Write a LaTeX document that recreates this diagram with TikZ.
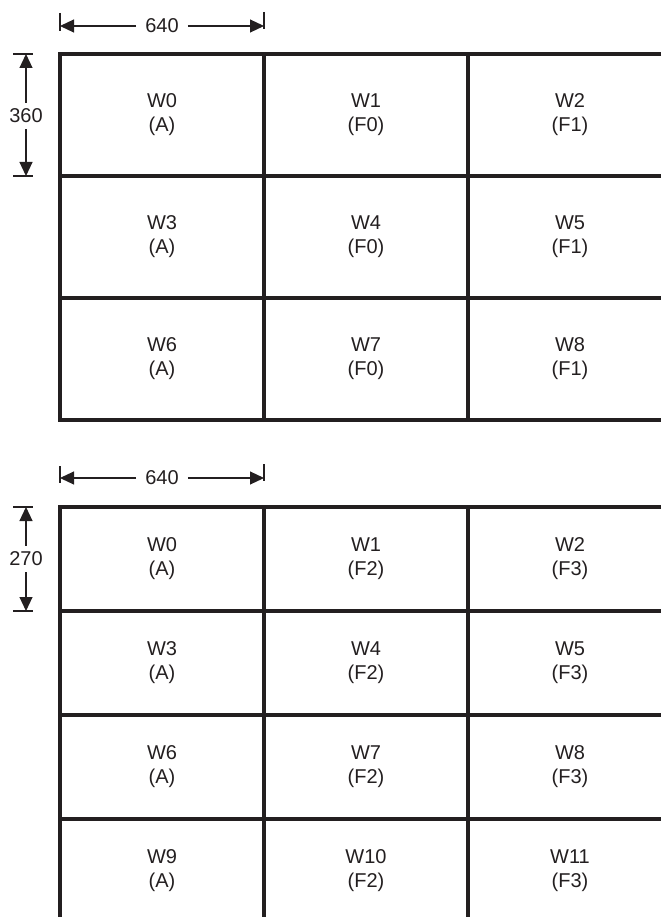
\documentclass[tikz,border=0pt]{standalone}
\usepackage{fontspec}
\setmainfont{Liberation Sans}
\usetikzlibrary{arrows.meta}
\definecolor{ink}{RGB}{35,31,32}
\tikzset{
  gridline/.style={draw=ink, line width=3.3pt},
  dimline/.style={draw=ink, line width=1.1pt},
  dimarrow/.style={dimline, -{Triangle[length=14pt,width=13pt]}},
  celltext/.style={align=center, inner sep=0pt, text=ink, font=\fontsize{20}{24}\selectfont},
  dimtext/.style={inner sep=0pt, text=ink, font=\fontsize{20}{24}\selectfont}
}
\begin{document}
\begin{tikzpicture}[x=1pt,y=-1pt]
\useasboundingbox (0,0) rectangle (661,917);

% ---------- top grid ----------
\draw[gridline, line join=miter] (661,54) -- (60,54) -- (60,420) -- (661,420);
\draw[gridline] (264,54) -- (264,420);
\draw[gridline] (468,54) -- (468,420);
\draw[gridline] (60,176) -- (661,176);
\draw[gridline] (60,298) -- (661,298);

\foreach \r/\ry in {0/115,1/237,2/359}{
  \pgfmathtruncatemacro{\a}{3*\r}
  \pgfmathtruncatemacro{\b}{3*\r+1}
  \pgfmathtruncatemacro{\c}{3*\r+2}
  \node[celltext] (ta\r) at (162,\ry) {W\a\\(A)};
  \node[celltext] (tb\r) at (366,\ry) {W\b\\(F0)};
  \node[celltext] (tc\r) at (570,\ry) {W\c\\(F1)};
}

% top dimensions
\coordinate (h1L) at (60,26);
\coordinate (h1R) at (264,26);
\draw[dimline] (60,13) -- (60,31);
\draw[dimline] (264,12) -- (264,29);
\node[dimtext] (h1) at (162,26) {640};
\draw[dimarrow] ([xshift=-9pt]h1.west) -- (h1L);
\draw[dimarrow] ([xshift=9pt]h1.east) -- (h1R);

\coordinate (v1T) at (26,54);
\coordinate (v1B) at (26,176);
\draw[dimline] (13,54) -- (33,54);
\draw[dimline] (13,176) -- (33,176);
\node[dimtext] (v1) at (26,116) {360};
\draw[dimarrow] ([yshift=6pt]v1.north) -- (v1T);
\draw[dimarrow] ([yshift=-6pt]v1.south) -- (v1B);

% ---------- bottom grid ----------
\draw[gridline, line join=miter] (661,507) -- (60,507) -- (60,917);
\draw[gridline] (264,507) -- (264,917);
\draw[gridline] (468,507) -- (468,917);
\draw[gridline] (60,611) -- (661,611);
\draw[gridline] (60,715) -- (661,715);
\draw[gridline] (60,819) -- (661,819);

\foreach \r/\ry in {0/559,1/663,2/767,3/871}{
  \pgfmathtruncatemacro{\a}{3*\r}
  \pgfmathtruncatemacro{\b}{3*\r+1}
  \pgfmathtruncatemacro{\c}{3*\r+2}
  \node[celltext] (ba\r) at (162,\ry) {W\a\\(A)};
  \node[celltext] (bb\r) at (366,\ry) {W\b\\(F2)};
  \node[celltext] (bc\r) at (570,\ry) {W\c\\(F3)};
}

% bottom dimensions
\coordinate (h2L) at (60,478);
\coordinate (h2R) at (264,478);
\draw[dimline] (60,466) -- (60,483);
\draw[dimline] (264,464) -- (264,481);
\node[dimtext] (h2) at (162,478) {640};
\draw[dimarrow] ([xshift=-9pt]h2.west) -- (h2L);
\draw[dimarrow] ([xshift=9pt]h2.east) -- (h2R);

\coordinate (v2T) at (26,507);
\coordinate (v2B) at (26,611);
\draw[dimline] (13,507) -- (33,507);
\draw[dimline] (13,611) -- (33,611);
\node[dimtext] (v2) at (26,559) {270};
\draw[dimarrow] ([yshift=6pt]v2.north) -- (v2T);
\draw[dimarrow] ([yshift=-6pt]v2.south) -- (v2B);
\end{tikzpicture}
\end{document}
